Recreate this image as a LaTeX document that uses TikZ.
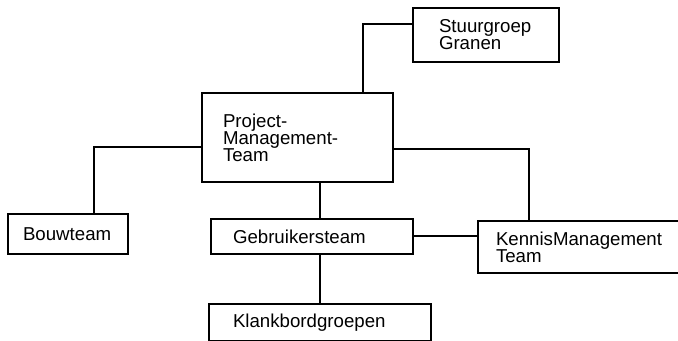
\documentclass[tikz,border=0pt]{standalone}
\usepackage{fontspec}
\setmainfont{Liberation Sans}
\usetikzlibrary{calc}
\newcommand{\orgfont}{\fontsize{14}{12.75}\selectfont}
\tikzset{
	orgbox/.style={draw, line width=1.5pt, rectangle, anchor=north west, align=left, inner ysep=0pt, font=\orgfont},
	orgline/.style={line width=1.5pt},
}

\begin{document}
\begin{tikzpicture}[x=0.75pt, y=-0.75pt]
		%%%%% START %%%%%
		\useasboundingbox (0, 0) rectangle (678, 341);
		
		\node[orgbox, text width=70.5pt, inner xsep=19.5pt, minimum height=40.5pt] (stuur) at (412, 7) {Stuurgroep\\Granen};
		\node[orgbox, text width=111.75pt, inner xsep=15.75pt, minimum height=66.75pt] (pmt) at (201, 92) {Project-\\Management-\\Team};
		
		\node[orgbox, text width=67.5pt, inner xsep=11.25pt, minimum height=30pt] (bouw) at (7, 213) {Bouwteam};
		\node[orgbox, text width=118.5pt, inner xsep=16.5pt, minimum height=26pt] (gebr) at (210, 218) {Gebruikersteam};
		\node[orgbox, text width=126.75pt, inner xsep=13.5pt, minimum height=39pt] (kennis) at (477, 220) {KennisManagement\\Team};
		
		\node[orgbox, text width=130.5pt, inner xsep=18pt, minimum height=27.75pt] (klank) at (208, 303) {Klankbordgroepen};
		
		% lines
		\draw[orgline] ($(stuur.north west)!0.3!(stuur.south west)$) -| ($(pmt.north west)!0.84!(pmt.north east)$);
		\draw[orgline] ($(pmt.north west)!0.6!(pmt.south west)$) -| ($(bouw.north west)!0.71!(bouw.north east)$);
		\draw[orgline] ($(pmt.north east)!0.63!(pmt.south east)$) -| ($(kennis.north west)!0.25!(kennis.north east)$);
		\draw[orgline] (pmt.south -| klank.north) -- (gebr.north -| klank.north);
		\draw[orgline] (gebr.south -| klank.north) -- (klank.north);
		\draw[orgline] (gebr.east) -- (gebr.east -| kennis.west);
		
		%%%%% END %%%%%
\end{tikzpicture}
\end{document}
